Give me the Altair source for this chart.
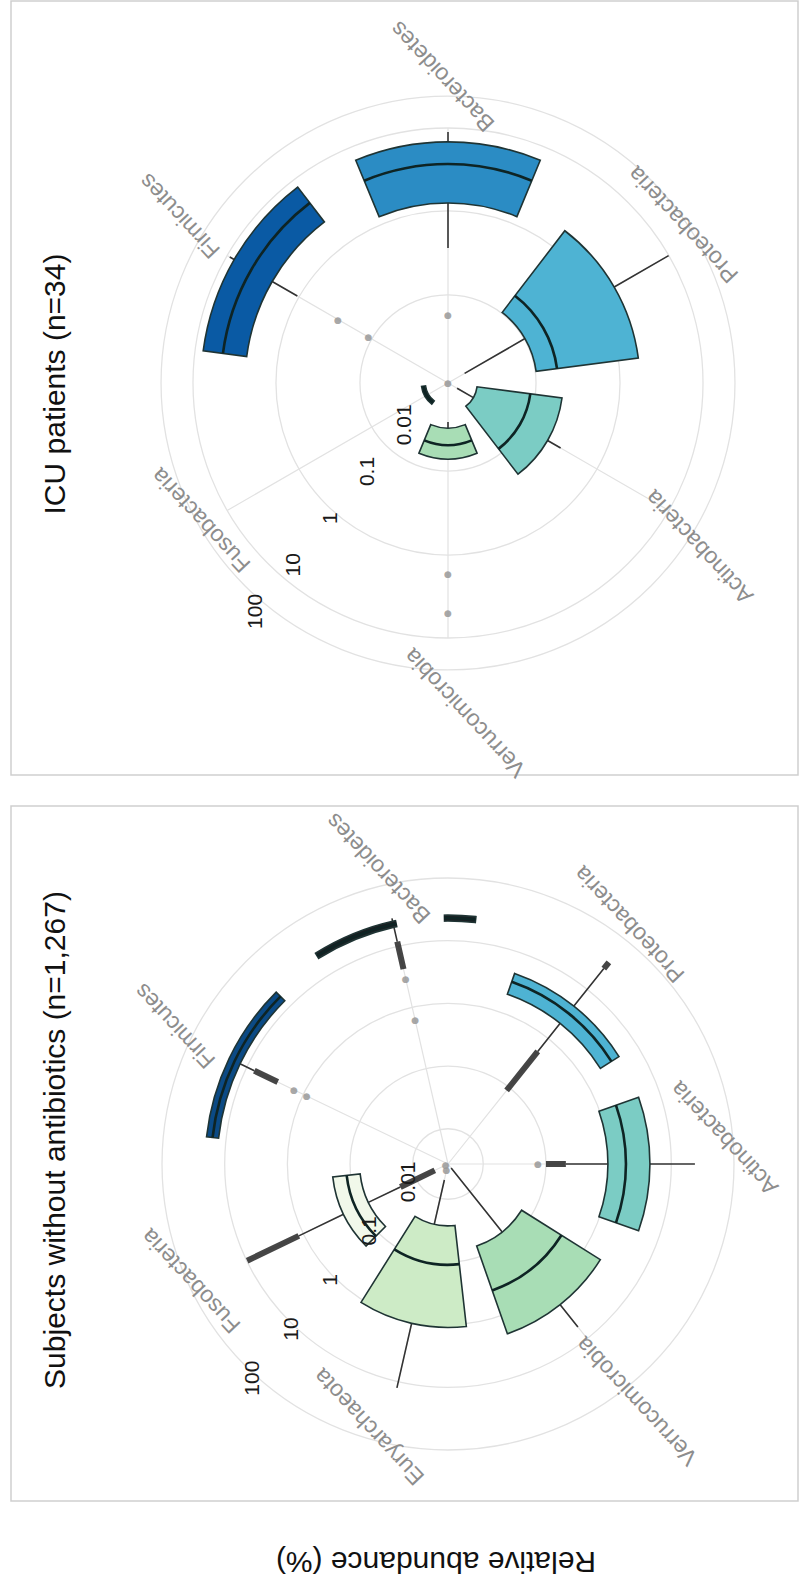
import math
import altair as alt
import pandas as pd

# ---------------- data (relative abundance, %) ----------------
ICU_CATS = ["Bacteroidetes", "Proteobacteria", "Actinobacteria",
            "Verrucomicrobia", "Fusobacteria", "Firmicutes"]
ICU_Q1 = [1.05, 0.031, 0.0031, 0.0057, 0.0024, 2.55]
ICU_MED = [4.72, 0.070, 0.0247, 0.0110, 0.0026, 6.44]
ICU_Q3 = [11.1, 1.66, 0.085, 0.0188, 0.0028, 13.9]
ICU_WLO = [0.184, 0.0021, 0.0015, 0.0045, 0.0024, 0.83]
ICU_WHI = [16.3, 18.8, 0.152, 0.0188, 0.0028, 16.9]
ICU_OUT_CAT = ["Bacteroidetes", "Bacteroidetes", "Verrucomicrobia",
               "Verrucomicrobia", "Firmicutes", "Firmicutes"]
ICU_OUT_VAL = [0.001, 0.0138, 1.6, 7.1, 0.135, 0.035]
ICU_BAND_CAT = []
ICU_BAND_LO = []
ICU_BAND_HI = []

SUB_CATS = ["Actinobacteria", "Verrucomicrobia", "Euryarchaeota", "Fusobacteria",
            "Firmicutes", "Bacteroidetes", "Proteobacteria"]
SUB_Q1 = [0.975, 0.0667, 0.0266, 0.0705, 13.2, 20.6, 2.03]
SUB_MED = [1.89, 0.375, 0.111, 0.116, 16.5, 23.0, 3.28]
SUB_Q3 = [4.56, 2.03, 1.11, 0.194, 20.6, 25.6, 4.56]
SUB_WLO = [0.208, 0.0033, 0.0050, 0.0191, 7.35, 11.9, 0.542]
SUB_WHI = [23.8, 5.77, 12.6, 1.20, 20.6, 28.6, 26.6]
SUB_BAND_CAT = ["Actinobacteria", "Fusobacteria", "Fusobacteria", "Firmicutes",
                "Bacteroidetes", "Proteobacteria", "Proteobacteria"]
SUB_BAND_LO = [0.100, 0.0047, 1.20, 2.83, 4.24, 0.0866, 26.6]
SUB_BAND_HI = [0.208, 0.0191, 9.86, 7.35, 11.9, 0.542, 35.7]
SUB_OUT_CAT = ["Actinobacteria", "Firmicutes", "Firmicutes", "Bacteroidetes",
               "Bacteroidetes", "Fusobacteria", "Euryarchaeota"]
SUB_OUT_VAL = [0.0745, 1.46, 0.873, 2.94, 0.627, 0.0030, 0.0035]

TICK_VALUES = [0.01, 0.1, 1, 10, 100]
TICK_LABELS = ["0.01", "0.1", "1", "10", "100"]
ICU_GRID = [0.030, 0.77, 19.0, 65.3]
SUB_GRID = [0.01, 0.1, 1, 10, 100]

ICU_TITLE = "ICU patients  (n=34)"
SUB_TITLE = "Subjects without antibiotics (n=1,267)"
Y_TITLE = "Relative abundance (%)"

# ---------------- styles ----------------
ICU_FILL = ["#2b8cc4", "#4eb3d3", "#7bccc4", "#a8ddb5", "#1e1e1e", "#0a5aa4"]
SUB_FILL = ["#7bccc4", "#a8ddb5", "#cdebc6", "#f1f8ea", "#0b4a85", "#1b1e22", "#4eb3d3"]
FONT = "Liberation Sans"

# ---------------- layout ----------------
W, H = 807, 1594
THETA_SCALE = alt.Scale(domain=[0, 360], range=[0, 2 * math.pi])
ICU_CENTER = (448, 383)
SUB_CENTER = (448, 1164)
ICU_ANGLES = [i * 60 for i in range(len(ICU_CATS))]
SUB_ANGLES = [90 + i * 360 / 7 for i in range(len(SUB_CATS))]
ICU_LABEL_R = [307, 284, 300, 330, 282, 316]
ICU_LABEL_T = [359, 56, 123, 177, 241, 302]
SUB_LABEL_R = [278, 303, 274, 282, 306, 304, 301]
SUB_LABEL_T = [84.6, 141.4, 196.7, 245.6, 296.9, 346.8, 37.1]


def build_panel(cats, angles, q1, med, q3, wlo, whi, fills, out_cat, out_val,
                band_cat, band_lo, band_hi, grid, spoke_end, center, hw,
                rdomain, rrange, lab_r, lab_t, tick_theta, tick_dx, tick_dy,
                mask=None):
    cx, cy = center

    def rs():
        return alt.Scale(type="log", domain=rdomain, range=rrange)

    ang = dict(zip(cats, angles))
    dmin = rdomain[0]

    box = pd.DataFrame(dict(cat=cats, ang=angles, q1=q1, med=med, q3=q3))
    box["t0"] = box["ang"] - hw
    box["t1"] = box["ang"] + hw

    wrows = []
    for a, lo, b1, b3, hi in zip(angles, wlo, q1, q3, whi):
        if lo < b1:
            wrows.append(dict(t=a, lo=lo, hi=b1))
        if hi > b3:
            wrows.append(dict(t=a, lo=b3, hi=hi))
    whisk = pd.DataFrame(wrows)

    rings = pd.DataFrame(dict(v=grid, t0=[0] * len(grid), t1=[360] * len(grid)))
    spokes = pd.DataFrame(dict(t=angles, lo=[dmin] * len(angles), hi=[spoke_end] * len(angles)))
    dots = pd.DataFrame(dict(t=[ang[c] for c in out_cat], v=out_val))
    labels = pd.DataFrame(dict(cat=cats, t=lab_t, r=lab_r))
    ticks = pd.DataFrame(dict(v=TICK_VALUES, label=TICK_LABELS))

    def seg(df, **mk):
        return alt.Chart(df).mark_arc(x=cx, y=cy, fill="#ffffff", fillOpacity=0, **mk).encode(
            theta=alt.Theta("t:Q", scale=THETA_SCALE), theta2=alt.Theta2("t"),
            radius=alt.Radius("hi:Q", scale=rs()), radius2=alt.Radius2("lo"))

    layers = []
    layers.append(alt.Chart(rings).mark_arc(
        x=cx, y=cy, fill="#ffffff", fillOpacity=0, stroke="#e2e2e2", strokeWidth=1.3
    ).encode(theta=alt.Theta("t0:Q", scale=THETA_SCALE), theta2=alt.Theta2("t1"),
             radius=alt.Radius("v:Q", scale=rs()), radius2=alt.Radius2("v")))
    layers.append(seg(spokes, stroke="#e2e2e2", strokeWidth=1.2))
    if len(band_cat):
        bands = pd.DataFrame(dict(t=[ang[c] for c in band_cat], lo=band_lo, hi=band_hi))
        layers.append(seg(bands, stroke="#262626", strokeWidth=6, strokeCap="round",
                          strokeOpacity=0.85))
    layers.append(alt.Chart(dots).mark_text(
        x=cx, y=cy, text="●", font="DejaVu Sans", fontSize=9, color="#999999",
        opacity=0.85, align="center", baseline="middle"
    ).encode(theta=alt.Theta("t:Q", scale=THETA_SCALE),
             radius=alt.Radius("v:Q", scale=rs())))
    layers.append(seg(whisk, stroke="#333333", strokeWidth=1.6))
    layers.append(alt.Chart(box).mark_arc(
        x=cx, y=cy, stroke="#1f3434", strokeWidth=1.6
    ).encode(theta=alt.Theta("t0:Q", scale=THETA_SCALE), theta2=alt.Theta2("t1"),
             radius=alt.Radius("q3:Q", scale=rs()), radius2=alt.Radius2("q1"),
             fill=alt.Fill("cat:N", scale=alt.Scale(domain=cats, range=fills), legend=None)))
    layers.append(alt.Chart(box).mark_arc(
        x=cx, y=cy, fill="#ffffff", fillOpacity=0, stroke="#0e2424", strokeWidth=2.6
    ).encode(theta=alt.Theta("t0:Q", scale=THETA_SCALE), theta2=alt.Theta2("t1"),
             radius=alt.Radius("med:Q", scale=rs()), radius2=alt.Radius2("med")))
    if mask is not None:
        mdf = pd.DataFrame([mask])
        layers.append(alt.Chart(mdf).mark_arc(x=cx, y=cy, fill="#ffffff").encode(
            theta=alt.Theta("t0:Q", scale=THETA_SCALE), theta2=alt.Theta2("t1"),
            radius=alt.Radius("hi:Q", scale=rs()), radius2=alt.Radius2("lo")))
    layers.append(alt.Chart(labels).mark_text(
        x=cx, y=cy, angle=227, font=FONT, fontSize=23, color="#8d8d8d",
        align="center", baseline="middle"
    ).encode(theta=alt.Theta("t:Q", scale=THETA_SCALE),
             radius=alt.Radius("r:Q", scale=None), text="cat:N"))
    layers.append(alt.Chart(ticks).mark_text(
        x=cx, y=cy, theta=math.radians(tick_theta), angle=270, dx=tick_dx, dy=tick_dy,
        font=FONT, fontSize=21, color="#1a1a1a", align="center", baseline="middle"
    ).encode(radius=alt.Radius("v:Q", scale=rs()), text="label:N"))
    return layers


icu_layers = build_panel(
    ICU_CATS, ICU_ANGLES, ICU_Q1, ICU_MED, ICU_Q3, ICU_WLO, ICU_WHI, ICU_FILL,
    ICU_OUT_CAT, ICU_OUT_VAL, ICU_BAND_CAT, ICU_BAND_LO, ICU_BAND_HI,
    ICU_GRID, 19.0, ICU_CENTER, 22.5, [0.001, 100], [0, 298],
    ICU_LABEL_R, ICU_LABEL_T, 218.5, 4.8, -6)

sub_layers = build_panel(
    SUB_CATS, SUB_ANGLES, SUB_Q1, SUB_MED, SUB_Q3, SUB_WLO, SUB_WHI, SUB_FILL,
    SUB_OUT_CAT, SUB_OUT_VAL, SUB_BAND_CAT, SUB_BAND_LO, SUB_BAND_HI,
    SUB_GRID, 10, SUB_CENTER, 19.3, [0.00274, 100], [0, 286],
    SUB_LABEL_R, SUB_LABEL_T, 218.5, 9.7, -16.9,
    mask=dict(t0=348, t1=359, lo=15.9, hi=30.8))

one = pd.DataFrame({"k": [0]})
frames = [
    alt.Chart(one).mark_rect(fillOpacity=0, fill="#ffffff", stroke="#cfcfcf", strokeWidth=1.5).encode(
        x=alt.value(11), x2=alt.value(798), y=alt.value(1), y2=alt.value(775)),
    alt.Chart(one).mark_rect(fillOpacity=0, fill="#ffffff", stroke="#cfcfcf", strokeWidth=1.5).encode(
        x=alt.value(11), x2=alt.value(798), y=alt.value(806), y2=alt.value(1501)),
]
titles = [
    alt.Chart(pd.DataFrame({"t": [ICU_TITLE]})).mark_text(
        x=56, y=384, angle=270, font=FONT, fontSize=30, color="#111111",
        align="center", baseline="middle").encode(text="t:N"),
    alt.Chart(pd.DataFrame({"t": [SUB_TITLE]})).mark_text(
        x=56, y=1140, angle=270, font=FONT, fontSize=30, color="#111111",
        align="center", baseline="middle").encode(text="t:N"),
    alt.Chart(pd.DataFrame({"t": [Y_TITLE]})).mark_text(
        x=436, y=1561, angle=180, font=FONT, fontSize=30, color="#111111",
        align="center", baseline="middle").encode(text="t:N"),
]

chart = alt.layer(*frames, *icu_layers, *sub_layers, *titles).resolve_scale(
    radius="independent", fill="independent"
).properties(
    width=W, height=H, padding=0, background="white",
    autosize=alt.AutoSizeParams(type="none")
).configure_view(stroke=None)

chart.save("out.html", embed_options={"renderer": "svg", "actions": False})
